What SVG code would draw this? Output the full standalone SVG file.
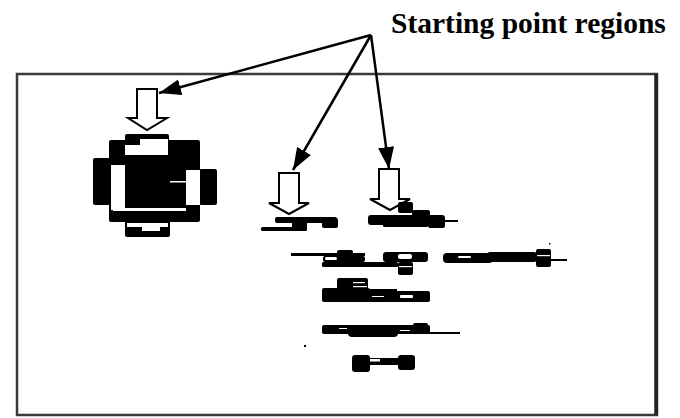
<svg xmlns="http://www.w3.org/2000/svg" width="680" height="418" viewBox="0 0 680 418">
<defs>
<marker id="ah" markerUnits="userSpaceOnUse" markerWidth="24" markerHeight="18" refX="22" refY="8" orient="auto">
<path d="M0,0 L22,8 L0,16 Z" fill="#000"/>
</marker>
<style>
.blk{fill:#000}
.wht{fill:#fff}
.hollow{fill:#fff;stroke:#000;stroke-width:2;stroke-linejoin:miter}
.conn{stroke:#000;stroke-width:2.5;fill:none}
.frame{fill:none;stroke:#3a3a3a;stroke-width:2.5}
.title{font-family:"Liberation Serif","Times New Roman",serif;font-weight:bold;font-size:29.5px;fill:#000}
</style>
</defs>
<rect width="680" height="418" fill="#fff"/>
<rect class="frame" x="17" y="74" width="640" height="341"/>
<line x1="656" y1="74" x2="656" y2="415" stroke="#222" stroke-width="3.5"/>

<g id="label">
<text class="title" x="391" y="33">Starting point regions</text>
</g>

<g id="region-blob">
<rect class="blk" x="125" y="134" width="44" height="10" rx="2"/>
<rect class="blk" x="109" y="140" width="91" height="82" rx="2"/>
<rect class="blk" x="93" y="158" width="17" height="47" rx="2"/>
<rect class="blk" x="199" y="169" width="18" height="36" rx="2"/>
<rect class="blk" x="125" y="220" width="45" height="17" rx="2"/>
<rect class="wht" x="140" y="139" width="28" height="7"/>
<rect class="wht" x="125" y="145" width="43" height="10"/>
<rect class="wht" x="111" y="165" width="14" height="45"/>
<rect class="wht" x="186" y="170" width="14" height="35"/>
<rect class="wht" x="113" y="208" width="73" height="3"/>
<rect class="wht" x="127" y="223" width="41" height="4"/>
<rect class="wht" x="142" y="225" width="18" height="6"/>
<rect class="wht" x="170" y="181" width="16" height="1.5"/>
</g>

<g id="hollow-arrow-1">
<path class="hollow" d="M137,89 H157 V118 H167 L147,130 L128,118 H137 Z"/>
</g>
<g id="hollow-arrow-2">
<path class="hollow" d="M279,173 H299 V203 H309 L289,214 L269,203 H279 Z"/>
</g>
<g id="hollow-arrow-3">
<path class="hollow" d="M379,169 H399 V199 H410 L390,210 L370,199 H379 Z"/>
</g>

<g id="region-a">
<rect class="blk" x="275" y="217" width="62" height="6" rx="2"/>
<rect class="blk" x="261" y="227" width="46" height="4" rx="1.5"/>
<rect class="blk" x="292" y="217" width="15" height="14" rx="2"/>
<rect class="blk" x="322" y="218" width="16" height="10" rx="2"/>
</g>

<g id="region-b">
<rect class="blk" x="398" y="202" width="15" height="11" rx="2"/>
<rect class="blk" x="368" y="215" width="77" height="10" rx="3"/>
<rect class="blk" x="412" y="210" width="18" height="7" rx="2"/>
<rect class="blk" x="428" y="218" width="17" height="10" rx="2"/>
<rect class="blk" x="383" y="223" width="45" height="4" rx="1.5"/>
<rect class="blk" x="445" y="220" width="13" height="2"/>
</g>

<g id="region-c">
<rect class="blk" x="291" y="253" width="74" height="3"/>
<rect class="blk" x="337" y="250" width="16" height="10" rx="2"/>
<rect class="blk" x="323" y="256" width="42" height="6" rx="2"/>
<rect class="wht" x="325" y="257" width="12" height="3" rx="1.5"/>
<rect class="blk" x="322" y="262" width="76" height="5" rx="1.5"/>
<rect class="blk" x="383" y="252" width="45" height="10" rx="3"/>
<rect class="wht" x="398" y="254" width="14" height="5" rx="2"/>
<rect class="blk" x="398" y="262" width="15" height="13" rx="2"/>
<rect class="wht" x="399" y="266" width="13" height="1.2"/>
</g>

<g id="region-d">
<rect class="blk" x="443" y="253" width="50" height="10" rx="4"/>
<rect class="wht" x="458" y="256" width="13" height="2" rx="1"/>
<rect class="blk" x="487" y="252" width="50" height="10" rx="3"/>
<rect class="blk" x="536" y="249" width="15" height="18" rx="2"/>
<rect class="wht" x="537" y="255" width="13" height="1.2"/>
<rect class="blk" x="550" y="259" width="17" height="2"/>
<rect class="blk" x="549" y="243" width="1.5" height="1.5"/>
</g>

<g id="region-e">
<rect class="blk" x="337" y="278" width="31" height="12" rx="2"/>
<rect class="wht" x="353" y="282" width="12" height="1.2"/>
<rect class="wht" x="353" y="286" width="14" height="1.2"/>
<rect class="blk" x="322" y="288" width="48" height="14" rx="2"/>
<rect class="blk" x="368" y="291" width="62" height="11" rx="2"/>
<rect class="blk" x="357" y="289" width="40" height="3"/>
<rect class="wht" x="400" y="295" width="13" height="3" rx="1"/>
<rect class="wht" x="372" y="296" width="12" height="1"/>
</g>

<g id="region-f">
<rect class="blk" x="322" y="325" width="108" height="9" rx="2"/>
<rect class="blk" x="348" y="325" width="50" height="12" rx="4"/>
<rect class="blk" x="413" y="323" width="15" height="5" rx="2"/>
<rect class="blk" x="428" y="332" width="32" height="2"/>
<rect class="wht" x="339" y="328" width="8" height="1"/>
<rect class="wht" x="400" y="330" width="10" height="1"/>
<rect class="blk" x="304" y="345" width="2" height="2"/>
</g>

<g id="region-g">
<rect class="blk" x="352" y="355" width="18" height="17" rx="3"/>
<rect class="blk" x="398" y="355" width="17" height="15" rx="3"/>
<rect class="blk" x="369" y="358" width="30" height="7" rx="1"/>
<rect class="wht" x="370" y="359" width="10" height="2.5"/>
</g>

<g id="connectors">
<line class="conn" x1="371" y1="35" x2="159" y2="93" marker-end="url(#ah)"/>
<line class="conn" x1="371" y1="35" x2="293" y2="170" marker-end="url(#ah)"/>
<line class="conn" x1="371" y1="35" x2="389" y2="169" marker-end="url(#ah)"/>
</g>
</svg>
